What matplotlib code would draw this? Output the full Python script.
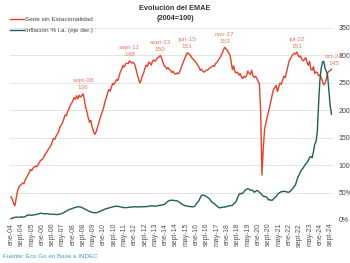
import matplotlib
matplotlib.use("Agg")
import matplotlib.pyplot as plt
from matplotlib.lines import Line2D
from matplotlib.ticker import FuncFormatter

# EMAE serie sin estacionalidad (2004=100), monthly ene-04 .. oct-24
emae = [
    98.5, 97.5, 96.0, 95.2, 97.8, 100.5, 101.8, 102.6, 102.9, 103.5, 103.2, 104.6,   # 2004
    105.5, 106.3, 107.2, 108.4, 108.0, 108.9, 109.3, 109.6, 109.4, 110.2, 110.9, 111.8,  # 2005
    111.9, 112.6, 113.5, 114.3, 114.9, 115.8, 116.4, 117.2, 118.5, 119.8, 119.4, 120.6,  # 2006
    121.3, 122.2, 124.0, 124.6, 125.5, 126.8, 128.3, 128.0, 129.6, 130.4, 131.8, 132.5,  # 2007
    133.4, 134.6, 134.0, 135.3, 134.2, 135.5, 134.8, 135.4, 136.0, 133.8, 131.0, 129.4,  # 2008
    127.2, 125.6, 126.3, 124.0, 122.4, 121.2, 122.0, 123.5, 125.0, 126.8, 128.2, 129.6,  # 2009
    131.0, 133.2, 134.5, 136.2, 137.6, 137.0, 138.4, 139.8, 139.4, 140.3, 141.2, 140.8,  # 2010
    142.5, 144.1, 145.0, 146.3, 145.8, 146.9, 147.2, 147.0, 148.0, 147.6, 147.2, 147.5,  # 2011
    146.8, 145.2, 143.4, 141.5, 140.0, 140.8, 142.6, 143.5, 145.2, 146.5, 146.0, 147.6,  # 2012
    147.2, 146.5, 148.0, 148.3, 147.9, 148.6, 149.2, 149.4, 150.0, 149.1, 147.6, 146.2,  # 2013
    145.9, 145.0, 145.6, 144.9, 144.5, 143.8, 144.2, 143.4, 143.2, 143.6, 143.3, 144.0,  # 2014
    145.2, 146.6, 147.8, 148.9, 150.0, 151.0, 150.6, 150.2, 149.6, 148.8, 148.4, 147.9,  # 2015
    147.2, 146.5, 145.8, 144.6, 145.0, 144.2, 143.9, 144.3, 144.6, 144.8, 145.3, 145.6,  # 2016
    145.9, 146.3, 146.0, 147.1, 147.4, 148.2, 149.0, 149.6, 150.7, 151.8, 153.0, 152.4,  # 2017
    152.0, 151.0, 150.3, 148.0, 144.8, 146.2, 144.0, 143.6, 143.9, 142.8, 143.4, 142.2,  # 2018
    141.6, 142.4, 141.9, 142.6, 144.3, 143.5, 143.0, 144.6, 142.6, 142.0, 142.4, 141.6,  # 2019
    140.5, 139.8, 129.5, 106.4, 116.0, 122.8, 125.3, 127.4, 129.2, 131.4, 133.4, 135.8,  # 2020
    137.6, 138.3, 139.1, 136.8, 138.4, 139.9, 139.5, 141.0, 142.4, 141.8, 143.6, 145.8,  # 2021
    147.9, 148.6, 149.7, 150.3, 150.8, 150.5, 151.2, 150.3, 149.4, 149.8, 148.6, 148.0,  # 2022
    148.5, 149.2, 147.6, 146.4, 147.8, 145.0, 144.6, 145.9, 143.4, 144.0, 143.7, 142.6,  # 2023
    142.9, 142.0, 140.6, 139.3, 139.8, 141.4, 143.6, 144.2, 144.5, 145.0,                # 2024
]

# Inflación % i.a. (eje der.)
inflacion = [
    2.3, 3.4, 4.4, 4.9, 5.2, 5.1, 4.9, 4.9, 5.9, 5.4, 5.3, 6.1,
    7.9, 9.1, 9.1, 8.8, 8.6, 9.0, 9.6, 9.7, 10.3, 10.7, 11.9, 12.3,
    12.1, 11.5, 11.1, 11.6, 11.5, 11.0, 10.6, 10.7, 10.5, 10.5, 10.4, 9.8,
    10.0, 10.2, 10.6, 11.5, 12.5, 13.5, 15.0, 16.5, 17.8, 18.9, 19.8, 20.5,
    21.5, 22.3, 23.0, 23.6, 24.2, 24.0, 23.6, 22.8, 21.5, 20.4, 19.2, 18.0,
    16.8, 15.6, 14.8, 14.0, 13.5, 13.1, 13.2, 13.6, 14.5, 15.5, 16.8, 18.0,
    18.9, 19.8, 20.6, 21.2, 21.9, 22.7, 23.3, 23.9, 24.4, 24.9, 25.3, 25.0,
    24.5, 23.9, 23.3, 22.8, 22.5, 22.4, 22.6, 22.9, 23.3, 23.6, 23.8, 24.0,
    23.9, 24.2, 24.0, 23.7, 24.1, 24.3, 24.0, 24.3, 24.5, 24.2, 24.6, 25.0,
    25.4, 25.9, 25.6, 25.2, 25.0, 25.6, 26.0, 26.3, 26.8, 27.3, 27.8, 28.3,
    30.0, 32.5, 34.1, 35.4, 36.0, 36.1, 35.8, 35.7, 35.4, 34.9, 33.8, 32.0,
    30.0, 28.6, 27.5, 26.4, 25.6, 25.2, 24.8, 24.4, 24.2, 24.0, 24.1, 25.8,
    29.5, 32.5, 35.0, 40.5, 44.5, 45.5, 45.0, 43.5, 42.8, 41.0, 39.0, 36.0,
    33.0, 31.0, 29.8, 27.5, 25.5, 23.5, 22.0, 22.8, 23.0, 23.5, 23.5, 24.0,
    25.0, 25.4, 25.6, 26.3, 26.8, 29.5, 31.2, 34.4, 40.5, 45.9, 48.5, 47.6,
    49.3, 51.3, 54.7, 55.8, 57.3, 55.8, 54.4, 54.5, 53.5, 50.5, 52.1, 53.8,
    52.9, 50.3, 48.4, 45.6, 43.4, 42.8, 42.4, 40.7, 36.6, 37.2, 35.8, 36.1,
    38.5, 40.7, 42.6, 46.3, 48.8, 50.2, 51.8, 51.4, 52.5, 52.1, 51.2, 50.9,
    50.7, 52.3, 55.1, 58.0, 60.7, 64.0, 71.0, 78.5, 83.0, 88.0, 92.4, 94.8,
    98.8, 102.5, 104.3, 108.8, 114.2, 115.6, 113.4, 124.4, 138.3, 142.7, 160.9, 211.4,
    254.2, 276.2, 287.9, 289.4, 276.4, 271.5, 263.4, 236.7, 209.0, 193.0,
]

tick_labels = ["ene-04", "sept-04", "may-05", "ene-06", "sept-06", "may-07", "ene-08", "sept-08",
               "may-09", "ene-10", "sept-10", "may-11", "ene-12", "sept-12", "may-13", "ene-14",
               "sept-14", "may-15", "ene-16", "sept-16", "may-17", "ene-18", "sept-18", "may-19",
               "ene-20", "sept-20", "may-21", "ene-22", "sept-22", "may-23", "ene-24", "sept-24"]
tick_step = 8

peak_labels = ["sept-08", "sept-11", "sept-13", "jun-15", "nov-17", "jul-22", "oct-24"]
peak_months = [56, 92, 116, 137, 166, 222, 249]
peak_values = [136, 148, 150, 151, 153, 151, 145]

plt.rcParams['font.family'] = ['Liberation Sans', 'DejaVu Sans']

RED = "#e8402c"
RED_TXT = "#ea7a66"
TEAL = "#1e5e5b"
GRID = "#e4e4e4"

W, H = 350, 263
fig = plt.figure(figsize=(3.5, 2.63), dpi=100)
L, R, T, B = 10, 333, 28, 220
ax = fig.add_axes([L / W, 1 - B / H, (R - L) / W, (B - T) / H])
ax2 = ax.twinx()

x = list(range(len(emae)))
ax.plot(x, emae, color=RED, lw=1.0, zorder=3)
ax2.plot(list(range(len(inflacion))), inflacion, color=TEAL, lw=1.0, zorder=3)

ax.set_xlim(-0.8, 250.2)
ax.set_ylim(90, 160)
ax2.set_ylim(0, 350)
ax.set_yticks(range(90, 161, 10))
ax2.set_yticks(range(0, 351, 50))
ax2.yaxis.set_major_formatter(FuncFormatter(lambda v, p: f"{int(v)}%"))
ax.grid(axis='y', color=GRID, lw=0.7)
ax.set_axisbelow(True)

ticks = list(range(0, tick_step * len(tick_labels), tick_step))
ax.set_xticks(ticks)
ax.set_xticklabels(tick_labels, rotation=90, fontsize=5, color="#555555")
ax.tick_params(axis='x', length=0, pad=2)
ax.tick_params(axis='y', length=0, pad=7.5, labelsize=5, labelcolor="#444444")
ax2.tick_params(axis='y', length=0, pad=4, labelsize=5, labelcolor="#444444")
for a in (ax, ax2):
    for s in a.spines.values():
        s.set_visible(False)

for lab, m, v in zip(peak_labels, peak_months, peak_values):
    dx = 1.5 if m == peak_months[-1] else 0
    ax.annotate(f"{lab}\n{v}", xy=(m, emae[m]), xytext=(dx, 2.5), textcoords='offset points',
                ha='center', va='bottom', fontsize=4.6, color=RED_TXT, linespacing=1.5,
                annotation_clip=False, zorder=5)

fig.text(175 / W, 1 - 8 / H, "Evolución del EMAE", ha='center', va='center',
         fontsize=5.3, fontweight='bold', color="#333333")
fig.text(175 / W, 1 - 19 / H, "(2004=100)", ha='center', va='center',
         fontsize=5.3, fontweight='bold', color="#333333")

handles = [Line2D([], [], color=RED, lw=1.0), Line2D([], [], color=TEAL, lw=1.0)]
fig.legend(handles, ["Serie sin Estacionalidad", "Inflación % i.a. (eje der.)"],
           loc='upper left', bbox_to_anchor=(10 / W, 1 - 17 / H), frameon=False,
           fontsize=4.6, handlelength=2.2, handletextpad=0.1, labelspacing=0.8,
           borderaxespad=0, borderpad=0, labelcolor="#444444")

fig.text(3 / W, 1 - 257 / H, "Fuente: Eco Go en Base a INDEC", ha='left', va='center',
         fontsize=4.5, color="#3c9fc8")

fig.savefig("out.png", dpi=100)
